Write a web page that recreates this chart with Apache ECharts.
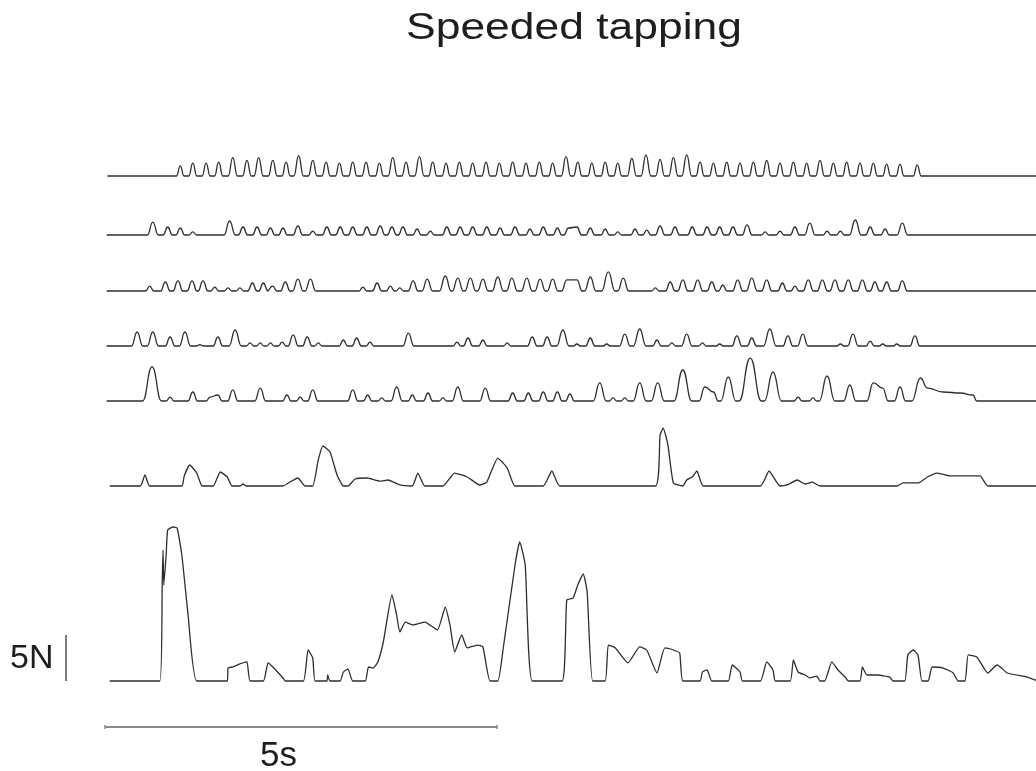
<!DOCTYPE html>
<html>
<head>
<meta charset="utf-8">
<script src="https://cdn.jsdelivr.net/npm/echarts@6/dist/echarts.min.js"></script>
<style>
  html, body { margin: 0; padding: 0; background: #fff; }
  #main { width: 1036px; height: 771px; }
</style>
</head>
<body>
<div id="main"></div>
<script>
// tap peaks: time (s) and peak force (N)
const t1Times = [0.96,1.12,1.29,1.45,1.63,1.81,1.96,2.14,2.31,2.47,2.65,2.82,2.99,3.16,3.33,3.50,3.67,3.84,4.01,4.18,4.35,4.52,4.69,4.86,5.03,5.20,5.37,5.54,5.71,5.88,6.03,6.21,6.38,6.54,6.72,6.90,7.08,7.25,7.42,7.59,7.76,7.93,8.10,8.27,8.44,8.61,8.78,8.95,9.12,9.29,9.46,9.63,9.80,9.97,10.14,10.36];
const t1Force = [1.1,1.4,1.4,1.5,2.0,1.7,2.0,1.7,1.5,2.2,1.7,1.5,1.4,1.5,1.5,1.4,2.0,1.5,2.1,1.5,1.4,1.5,1.4,1.5,1.4,1.5,1.4,1.5,1.4,2.1,1.5,1.4,1.5,1.4,1.9,2.3,1.8,2.0,2.3,1.5,1.4,1.5,1.4,1.5,1.7,1.4,1.5,1.4,1.7,1.4,1.5,1.4,1.4,1.3,1.3,1.2];

const t2Times = [0.61,0.80,0.96,1.12,1.59,1.76,1.94,2.11,2.27,2.46,2.65,2.83,3.00,3.16,3.34,3.51,3.66,3.80,3.98,4.15,4.36,4.53,4.69,4.87,5.04,5.23,5.42,5.59,5.77,5.91,6.02,6.19,6.38,6.54,6.76,6.91,7.08,7.27,7.49,7.68,7.84,8.01,8.19,8.42,8.61,8.80,8.99,9.21,9.38,9.57,9.76,9.95,10.17];
const t2Force = [1.41,0.87,0.76,0.33,1.52,0.87,0.87,0.76,0.76,0.98,0.43,0.87,0.87,0.87,0.87,0.98,0.87,0.87,0.65,0.43,0.87,0.87,0.87,0.87,0.76,0.87,0.65,0.87,0.76,0.76,0.87,0.76,0.65,0.33,0.65,0.54,0.98,0.87,0.87,0.87,0.87,0.87,1.09,0.33,0.43,0.87,1.30,0.43,0.43,1.63,0.87,0.65,1.30];

const t3Times = [0.57,0.77,0.93,1.11,1.25,1.40,1.57,1.72,1.88,2.02,2.14,2.30,2.46,2.62,3.29,3.47,3.64,3.76,3.93,4.11,4.34,4.50,4.66,4.82,5.01,5.19,5.38,5.55,5.71,5.89,6.02,6.19,6.42,6.61,7.02,7.21,7.37,7.56,7.74,7.88,8.07,8.25,8.44,8.64,8.80,8.97,9.15,9.31,9.48,9.66,9.82,9.97,10.17];
const t3Force = [0.54,0.98,1.09,1.09,1.09,0.43,0.33,0.33,0.87,0.87,0.54,0.98,1.30,1.30,0.43,0.87,0.54,0.33,1.09,1.30,1.63,1.41,1.41,1.30,1.52,1.41,1.41,1.30,1.30,1.20,1.20,1.52,2.07,1.41,0.33,0.98,1.20,1.20,0.98,0.65,1.20,1.41,1.20,0.87,0.54,1.20,1.20,1.20,1.20,1.20,0.98,0.98,1.09];

const t4Times = [0.41,0.61,0.83,1.02,1.21,1.44,1.66,1.85,1.98,2.11,2.26,2.40,2.58,2.72,3.04,3.21,3.38,3.87,4.49,4.63,4.82,5.13,5.45,5.64,5.84,6.02,6.19,6.40,6.63,6.82,7.04,7.23,7.42,7.62,7.84,8.06,8.25,8.48,8.71,8.90,9.38,9.54,9.76,9.92,10.10,10.33];
const t4Force = [1.52,1.52,0.98,1.52,0.16,0.98,1.74,0.33,0.33,0.33,0.43,1.20,0.98,0.33,0.65,0.87,0.43,1.41,0.43,0.87,0.65,0.33,0.98,0.98,1.74,0.22,0.87,0.22,1.30,1.85,0.65,0.33,1.30,0.33,0.22,1.09,0.87,1.85,1.09,1.30,0.22,1.30,0.54,0.22,0.22,1.09];

const t5Times = [0.60,0.83,1.12,1.34,1.44,1.63,1.98,2.32,2.49,2.65,3.16,3.35,3.53,3.72,3.92,4.12,4.31,4.50,4.85,5.20,5.40,5.59,5.77,5.93,6.31,6.48,6.63,6.82,7.05,7.37,7.65,7.76,7.95,8.23,8.52,8.84,9.03,9.21,9.50,9.80,9.92,10.14];
const t5Force = [3.70,0.43,0.98,0.43,0.65,1.20,1.41,0.65,0.43,1.20,1.20,0.65,0.33,1.52,0.65,0.87,0.33,1.52,1.41,0.87,0.87,0.98,0.98,0.76,1.96,0.33,0.33,1.96,1.96,3.37,1.52,0.98,2.61,4.67,3.15,0.43,0.33,2.72,1.74,1.96,1.41,1.52];
// last press of trace 5 is held and slowly released
const t5Tail = [[10.29,0],[10.40,2.50],[10.49,1.41],[10.69,0.98],[10.91,0.87],[11.07,0.65],[11.12,0]];

// slower traces: [time s, force N]
const trace6 = [[0.06,0],[0.45,0],[0.51,1.20],[0.57,0],[0.98,0],[1.01,1.09],[1.08,2.28],[1.17,1.41],[1.24,0],[1.38,0],[1.47,1.52],[1.56,0.98],[1.62,0],[1.72,0],[1.76,0.22],[1.80,0],[2.27,0],[2.36,0.43],[2.46,0.87],[2.55,0],[2.65,0],[2.72,2.83],[2.78,4.35],[2.87,3.70],[2.96,1.20],[3.04,0],[3.10,0],[3.19,0.76],[3.34,0.87],[3.51,0.54],[3.61,0.65],[3.76,0.11],[3.92,0],[3.99,1.41],[4.08,0],[4.31,0],[4.46,1.41],[4.62,0.98],[4.78,0.11],[4.87,0.43],[5.01,3.04],[5.13,1.96],[5.23,0],[5.59,0],[5.70,1.63],[5.80,0],[7.02,0],[7.08,5.54],[7.12,6.30],[7.18,4.46],[7.25,0.33],[7.37,0],[7.42,0.65],[7.49,0.98],[7.55,1.63],[7.63,0],[8.36,0],[8.47,1.63],[8.61,0],[8.70,0.11],[8.83,0.65],[8.93,0.22],[9.02,0.43],[9.12,0],[10.10,0],[10.18,0.33],[10.37,0.33],[10.49,0.98],[10.61,1.41],[10.78,1.09],[11.16,1.09],[11.26,0],[11.90,0]];

const trace7 = [[0.06,0],[0.70,0],[0.73,10.76],[0.74,14.24],[0.75,10.43],[0.78,13.70],[0.80,16.41],[0.87,16.74],[0.92,16.63],[0.98,13.70],[1.06,7.17],[1.17,0],[1.56,0],[1.57,1.41],[1.63,1.52],[1.72,1.85],[1.81,2.07],[1.85,0],[2.02,0],[2.08,1.96],[2.14,1.52],[2.27,0.33],[2.30,0],[2.53,0],[2.59,3.37],[2.65,2.50],[2.68,0],[2.83,0],[2.84,0.65],[2.87,0],[3.00,0],[3.04,0.98],[3.10,1.30],[3.16,0],[3.32,0],[3.36,1.52],[3.42,1.41],[3.48,2.07],[3.55,4.24],[3.66,9.35],[3.72,7.17],[3.76,5.33],[3.83,6.41],[3.93,6.09],[4.08,6.41],[4.24,5.54],[4.34,8.04],[4.40,6.09],[4.46,3.15],[4.55,5.00],[4.62,3.59],[4.75,3.91],[4.82,3.70],[4.91,0],[5.01,0],[5.08,3.59],[5.23,12.61],[5.29,15.11],[5.36,12.61],[5.45,0],[5.83,0],[5.89,8.80],[5.97,9.02],[6.03,10.43],[6.10,11.63],[6.15,9.67],[6.22,0],[6.38,0],[6.42,3.91],[6.51,3.59],[6.67,1.96],[6.82,3.70],[6.91,3.37],[7.04,0.87],[7.14,3.59],[7.25,3.37],[7.33,3.04],[7.37,0],[7.59,0],[7.62,0.98],[7.68,1.20],[7.74,0],[7.95,0],[8.00,1.74],[8.10,0.98],[8.13,0],[8.36,0],[8.44,2.07],[8.52,1.20],[8.55,0],[8.74,0],[8.78,2.28],[8.84,0.98],[8.93,0.65],[8.99,0.33],[9.08,0.54],[9.12,0],[9.18,0],[9.27,2.07],[9.35,1.20],[9.44,0.43],[9.48,0],[9.63,0],[9.66,1.52],[9.72,0.65],[9.85,0.65],[10.01,0.43],[10.05,0],[10.20,0],[10.24,2.83],[10.31,3.37],[10.37,2.83],[10.42,0],[10.50,0],[10.55,1.52],[10.69,1.41],[10.82,0.87],[10.88,0],[10.97,0],[11.01,2.83],[11.12,2.61],[11.26,0.87],[11.38,1.74],[11.51,0.87],[11.76,0.43],[11.90,0]];

// each tap drawn as a rounded pulse around its peak
function tapTrace(times, forces, t0, tEnd, hw0, hw1, tail) {
    const half = forces.map(f => hw0 + hw1 * f);
    const pts = [[t0, 0]];
    times.forEach((t, i) => {
        const joinPrev = i > 0 && times[i - 1] + half[i - 1] > t - half[i];
        const joinNext = i < times.length - 1 && t + half[i] > times[i + 1] - half[i + 1];
        if (!joinPrev) pts.push([t - half[i], 0]);
        pts.push([t, forces[i]]);
        if (!joinNext) pts.push([t + half[i], 0]);
    });
    (tail || []).forEach(p => pts.push(p));
    pts.push([tEnd, 0]);
    return pts;
}

const traces = [
    tapTrace(t1Times, t1Force, 0.03, 11.9, 0.035, 0.012),
    tapTrace(t2Times, t2Force, 0.02, 11.9, 0.04, 0.022),
    tapTrace(t3Times, t3Force, 0.02, 11.9, 0.04, 0.022),
    tapTrace(t4Times, t4Force, 0.02, 11.9, 0.04, 0.022),
    tapTrace(t5Times, t5Force, 0.02, 11.9, 0.04, 0.022, t5Tail),
    trace6,
    trace7
];

const baselines = [176, 235, 291, 346, 401, 486, 681];
const pxPerN = 9.2;
const pxPerS = 78.4;
const gridLeft = 105;
const tMax = (1036 - gridLeft) / pxPerS;   // time axis runs to the right edge
const yMin = -1, yMax = 18;

const chart = echarts.init(document.getElementById('main'), null, { renderer: 'canvas' });

const grids = [], xAxes = [], yAxes = [], series = [];
traces.forEach((data, i) => {
    grids.push({
        left: gridLeft,
        right: 0,
        top: baselines[i] - yMax * pxPerN,
        height: (yMax - yMin) * pxPerN
    });
    xAxes.push({ type: 'value', gridIndex: i, min: 0, max: tMax, show: false });
    yAxes.push({ type: 'value', gridIndex: i, min: yMin, max: yMax, show: false });
    series.push({
        type: 'line',
        xAxisIndex: i,
        yAxisIndex: i,
        data: data,
        showSymbol: false,
        smooth: i < 5 ? 0.5 : 0.15,
        smoothMonotone: i < 5 ? 'x' : undefined,
        lineStyle: { color: '#2e2e2e', width: 1.3 },
        animation: false
    });
});

chart.setOption({
    backgroundColor: '#fff',
    animation: false,
    grid: grids,
    xAxis: xAxes,
    yAxis: yAxes,
    series: series
});

// scale bars from the bottom trace's axes
const p0 = chart.convertToPixel({ gridIndex: 6 }, [0, 0]);
const pN = chart.convertToPixel({ gridIndex: 6 }, [0, 5]);
const pS = chart.convertToPixel({ gridIndex: 6 }, [5, 0]);
const barY = 727;

chart.setOption({
    graphic: [
        {
            type: 'text', x: 574, y: 29, scaleX: 1.2,
            style: { text: 'Speeded tapping', font: '37px "Liberation Sans", Arial, sans-serif', fill: '#1e1e1e', align: 'center', verticalAlign: 'middle' }
        },
        {
            type: 'text', x: 10, y: 659,
            style: { text: '5N', font: '34px "Liberation Sans", Arial, sans-serif', fill: '#1e1e1e', align: 'left', verticalAlign: 'middle' }
        },
        {
            type: 'line', shape: { x1: 66, y1: pN[1], x2: 66, y2: p0[1] },
            style: { stroke: '#444', lineWidth: 1.4 }
        },
        {
            type: 'line', shape: { x1: p0[0], y1: barY, x2: pS[0], y2: barY },
            style: { stroke: '#888', lineWidth: 2 }
        },
        {
            type: 'line', shape: { x1: p0[0], y1: barY - 2, x2: p0[0], y2: barY + 2 },
            style: { stroke: '#888', lineWidth: 1.5 }
        },
        {
            type: 'line', shape: { x1: pS[0], y1: barY - 2, x2: pS[0], y2: barY + 2 },
            style: { stroke: '#888', lineWidth: 1.5 }
        },
        {
            type: 'text', x: 260, y: 756,
            style: { text: '5s', font: '35px "Liberation Sans", Arial, sans-serif', fill: '#1e1e1e', align: 'left', verticalAlign: 'middle' }
        }
    ]
});
</script>
</body>
</html>
